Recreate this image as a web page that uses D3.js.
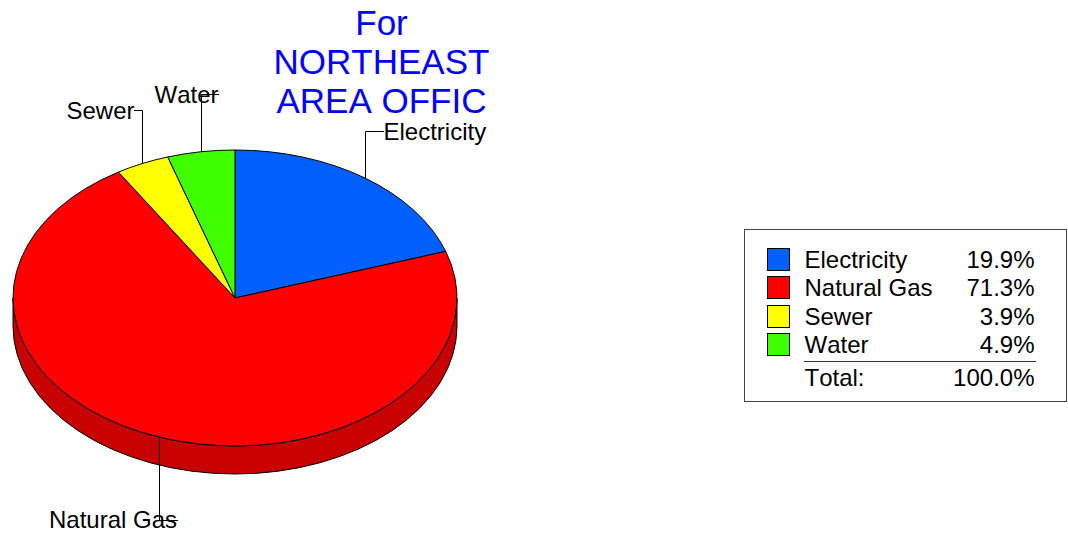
<!DOCTYPE html>
<html><head><meta charset="utf-8">
<script src="https://cdn.jsdelivr.net/npm/d3@7"></script>
<style>
html,body{margin:0;padding:0;background:#fff}
svg{display:block}
text{font-family:"Liberation Sans",Arial,sans-serif;font-kerning:none}
</style></head><body>
<svg id="c" width="1068" height="533"></svg>
<script>
const categories = ["Electricity","Natural Gas","Sewer","Water"];
const values = [19.9,71.3,3.9,4.9];
const valueLabels = ["19.9%","71.3%","3.9%","4.9%"];
const colors = ["#0060ff","#ff0000","#ffff00","#40ff00"];
const wallColors = ["#004cc8","#c80000","#c8c800","#32c800"];
const titleLines = ["For","NORTHEAST","AREA OFFIC"];
const totalLabel = "Total:";
const totalValue = "100.0%";

const svg = d3.select("#c");
const cx = 235, cy = 298, rx = 222, ry = 148, depth = 28;
const sx = d3.scaleLinear().domain([-1,1]).range([cx-rx,cx+rx]);
const sy = d3.scaleLinear().domain([-1,1]).range([cy-ry,cy+ry]);
const pie = d3.pie().sort(null).value(d=>d)(values);
const px = a => sx(Math.sin(a)), py = a => sy(-Math.cos(a));

// side wall: visible front half only
pie.forEach((s,i)=>{
  const a0 = Math.max(s.startAngle,Math.PI/2), a1 = Math.min(s.endAngle,Math.PI*1.5);
  if(a1<=a0) return;
  const large = a1-a0>Math.PI?1:0;
  const d = `M${px(a0)},${py(a0)}A${rx},${ry} 0 ${large} 1 ${px(a1)},${py(a1)}`+
          `L${px(a1)},${py(a1)+depth}A${rx},${ry} 0 ${large} 0 ${px(a0)},${py(a0)+depth}Z`;
  svg.append("path").attr("d",d).attr("fill",wallColors[i]).attr("stroke","#000").attr("stroke-width",1);
});
// top slices
svg.selectAll("path.slice").data(pie).join("path").attr("class","slice")
  .attr("d",s=>`M${cx},${cy}L${px(s.startAngle)},${py(s.startAngle)}A${rx},${ry} 0 ${s.endAngle-s.startAngle>Math.PI?1:0} 1 ${px(s.endAngle)},${py(s.endAngle)}Z`)
  .attr("fill",(s,i)=>colors[i]).attr("stroke","#000").attr("stroke-width",1);

// leader lines and labels
const labelFont = 24;
const leaderEnd = [[366,131,384],[158,520,178],[143,110,134],[201,94,219]];
const labelPos = [[383.5,140,"start"],[49,528,"start"],[134.5,119,"end"],[218.5,103,"end"]];
pie.forEach((s,i)=>{
  const m = (s.startAngle+s.endAngle)/2;
  const x0 = px(m), y0 = py(m);
  const [lx,ly,hx] = leaderEnd[i];
  svg.append("text").attr("x",labelPos[i][0]).attr("y",labelPos[i][1])
    .attr("text-anchor",labelPos[i][2]).attr("font-size",labelFont).attr("fill","#000").text(categories[i]);
  svg.append("path").attr("d",`M${Math.round(x0)+.5},${y0}V${ly+.5}H${hx}`)
    .attr("fill","none").attr("stroke","#000").attr("stroke-width",1);
});

// title
svg.selectAll("text.title").data(titleLines).join("text").attr("class","title")
  .attr("x",381.5).attr("y",(d,i)=>35+i*38.8).attr("text-anchor","middle")
  .attr("font-size",35).attr("fill","#0000ff").text(d=>d);

// legend
svg.append("rect").attr("x",744.5).attr("y",229.5).attr("width",322).attr("height",172)
  .attr("fill","#fff").attr("stroke","#444").attr("stroke-width",1);
const rowY = d3.scaleLinear().domain([0,1]).range([248,276.4]);
categories.forEach((c,i)=>{
  const y = rowY(i);
  svg.append("rect").attr("x",767.5).attr("y",Math.round(y)+.5).attr("width",22).attr("height",22)
    .attr("fill",colors[i]).attr("stroke","#000").attr("stroke-width",1);
  svg.append("text").attr("x",804.5).attr("y",y+20).attr("font-size",labelFont).text(c);
  svg.append("text").attr("x",1034.5).attr("y",y+20).attr("text-anchor","end").attr("font-size",labelFont).text(valueLabels[i]);
});
svg.append("line").attr("x1",804).attr("x2",1036).attr("y1",361.5).attr("y2",361.5).attr("stroke","#333");
svg.append("text").attr("x",804.5).attr("y",386).attr("font-size",labelFont).text(totalLabel);
svg.append("text").attr("x",1034.5).attr("y",386).attr("text-anchor","end").attr("font-size",labelFont).text(totalValue);
</script>
</body></html>
